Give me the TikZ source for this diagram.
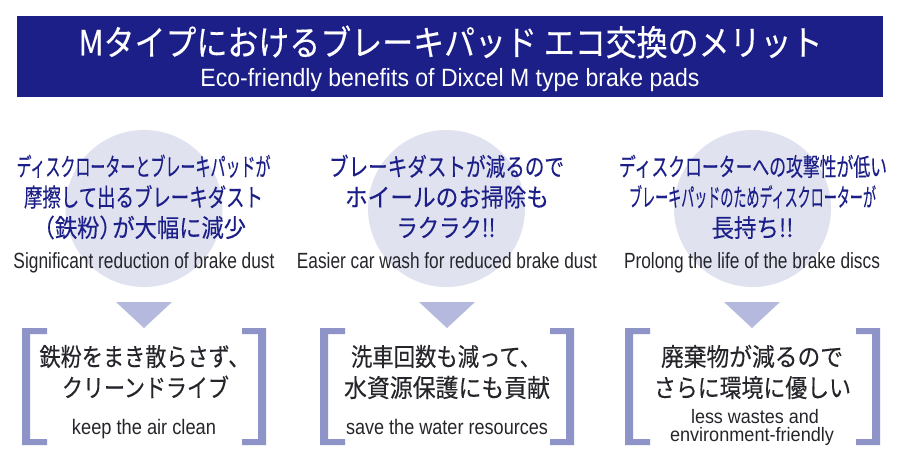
\documentclass[tikz,border=0pt]{standalone}
\usepackage{fontspec}
\usepackage{graphicx}
\setmainfont{Liberation Sans}
\newfontfamily\jpf[FakeBold=0.25]{Noto Sans CJK JP}
\definecolor{navy}{HTML}{1C1F87}
\definecolor{inktext}{HTML}{25262B}
\definecolor{circ}{HTML}{E0E2F0}
\definecolor{tri}{HTML}{B5B9DD}
\definecolor{brk}{HTML}{8F94C8}
\newcommand{\fitw}[2]{\resizebox{#1pt}{\height}{#2}}
\tikzset{
 x=1pt,y=-1pt,
 lbl/.style={inner sep=0pt,outer sep=0pt,anchor=base},
 bluejp/.style={lbl,text=navy,font=\fontsize{25}{25}\jpf},
 darkjp/.style={lbl,text=inktext,font=\fontsize{25}{25}\jpf},
 eng/.style={lbl,text=inktext,font=\fontsize{22}{22}\selectfont},
 engb/.style={lbl,text=inktext,font=\fontsize{21}{21}\selectfont},
 engc/.style={lbl,text=inktext,font=\fontsize{19.5}{19.5}\selectfont},
 whitejp/.style={lbl,text=white,font=\fontsize{35}{35}\jpf},
 whiteen/.style={lbl,text=white,font=\fontsize{25}{25}\selectfont},
 disc/.style={fill=circ,draw=none},
 pointer/.style={fill=tri,draw=none},
 bracket/.style={fill=brk,draw=none},
}
\newcommand{\lbrk}[1]{\fill[bracket] (#1,328) -- ++(25,0) -- ++(0,6) -- ++(-17,0) -- (#1+8,439) -- ++(17,0) -- ++(0,6) -- ++(-25,0) -- cycle;}
\newcommand{\rbrk}[1]{\fill[bracket] (#1,328) -- ++(-24,0) -- ++(0,6) -- ++(16,0) -- (#1-8,439) -- ++(-16,0) -- ++(0,6) -- ++(24,0) -- cycle;}
\begin{document}
\begin{tikzpicture}
\useasboundingbox (0,0) rectangle (900,463);
\fill[white] (0,0) rectangle (900,463);
\fill[navy] (17,16) rectangle (883,97);
\node[whitejp] (title) at (450.5,55.5) {\fitw{744}{Mタイプにおけるブレーキパッド エコ交換のメリット}};
\node[whiteen] (subtitle) at (450,86.5) {\fitw{499}{Eco-friendly benefits of Dixcel M type brake pads}};

\fill[disc] (144,208.5) circle (78.5);
\fill[disc] (446.5,208.5) circle (78.5);
\fill[disc] (752.5,208.5) circle (78.5);

\fill[pointer] (116,302) -- (172,302) -- (144,328) -- cycle;
\fill[pointer] (419,302) -- (475,302) -- (447,328) -- cycle;
\fill[pointer] (724,302) -- (780,302) -- (752,328) -- cycle;

\lbrk{22}\rbrk{266}
\lbrk{320}\rbrk{574}
\lbrk{625}\rbrk{880}

\node[bluejp] (a1) at (143.5,176) {\fitw{254}{ディスクローターとブレーキパッドが}};
\node[bluejp] (a2) at (143.5,206.5) {\fitw{239}{摩擦して出るブレーキダスト}};
\node[bluejp] (a3) at (144,237) {\fitw{204}{\hspace*{-0.42em}（鉄粉）\hspace{-0.42em}が大幅に減少}};
\node[eng] (a4) at (144,268) {\fitw{261}{Significant reduction of brake dust}};

\node[bluejp] (b1) at (446.5,176) {\fitw{235}{ブレーキダストが減るので}};
\node[bluejp] (b2) at (447,206.5) {\fitw{204}{ホイールのお掃除も}};
\node[bluejp] (b3) at (446,237) {\fitw{99}{ラクラク!!}};
\node[eng] (b4) at (447,268) {\fitw{300}{Easier car wash for reduced brake dust}};

\node[bluejp] (c1) at (753,176) {\fitw{268}{ディスクローターへの攻撃性が低い}};
\node[bluejp] (c2) at (752.5,206.5) {\fitw{247}{ブレーキパッドのためディスクローターが}};
\node[bluejp] (c3) at (752.5,237) {\fitw{82}{長持ち!!}};
\node[eng] (c4) at (752,268) {\fitw{256}{Prolong the life of the brake discs}};

\node[darkjp] (d1) at (144.5,366) {\fitw{210}{鉄粉をまき散らさず、}};
\node[darkjp] (d2) at (145.5,397) {\fitw{167}{クリーンドライブ}};
\node[engb] (d3) at (144,434) {\fitw{144}{keep the air clean}};

\node[darkjp] (e1) at (446,366) {\fitw{190}{洗車回数も減って、}};
\node[darkjp] (e2) at (447,397) {\fitw{206}{水資源保護にも貢献}};
\node[engb] (e3) at (447,434) {\fitw{202}{save the water resources}};

\node[darkjp] (f1) at (752,366) {\fitw{182}{廃棄物が減るので}};
\node[darkjp] (f2) at (752.5,397) {\fitw{197}{さらに環境に優しい}};
\node[engc] (f3) at (755,423) {\fitw{128}{less wastes and}};
\node[engc] (f4) at (752,441.5) {\fitw{164}{environment-friendly}};
\end{tikzpicture}
\end{document}
